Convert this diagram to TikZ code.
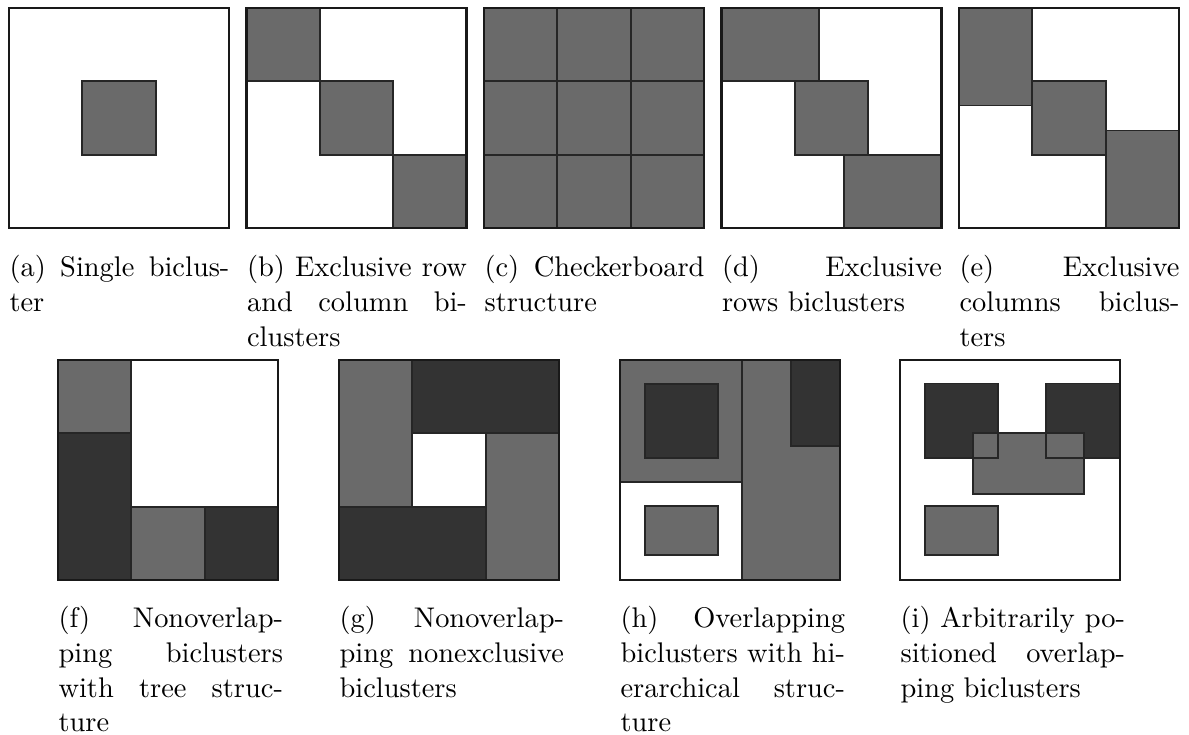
\documentclass[tikz,border=0pt]{standalone}
\usepackage{tikz}

\definecolor{bcmid}{HTML}{6A6A6A}
\definecolor{bcdark}{HTML}{333333}

\begin{document}
\begin{tikzpicture}[
  x=0.352pt, y=-0.352pt,
  frame/.style={draw=black!90, line width=0.9pt},
  edge/.style={draw=black!85, line width=0.6pt},
  mid/.style={edge, fill=bcmid},
  dark/.style={edge, fill=bcdark},
  captxt/.style={anchor=north west, inner sep=0pt, text width=77.4pt, align=justify, font=\fontsize{10}{12.2}\selectfont},
  captxtB/.style={captxt, text width=79pt}
]
\def\s{73.33}
\def\yT{8}
\def\yB{360}

\useasboundingbox (0,0) rectangle (1189,734);

% top row
% (a) single bicluster
\begin{scope}[shift={(9,\yT)}, scale=\s]
  \fill[white] (0,0) rectangle (3,3);
  \draw[mid] (1,1) rectangle (2,2);
  \draw[frame] (0,0) rectangle (3,3);
\end{scope}

% (b) exclusive row and column
\begin{scope}[shift={(246.5,\yT)}, scale=\s]
  \fill[white] (0,0) rectangle (3,3);
  \draw[mid] (0,0) rectangle (1,1);
  \draw[mid] (1,1) rectangle (2,2);
  \draw[mid] (2,2) rectangle (3,3);
  \draw[frame] (0,0) rectangle (3,3);
\end{scope}

% (c) checkerboard
\begin{scope}[shift={(484,\yT)}, scale=\s]
  \fill[bcmid] (0,0) rectangle (3,3);
  \draw[edge] (1,0) -- (1,3) (2,0) -- (2,3) (0,1) -- (3,1) (0,2) -- (3,2);
  \draw[frame] (0,0) rectangle (3,3);
\end{scope}

% (d) exclusive rows
\begin{scope}[shift={(721.5,\yT)}, scale=\s]
  \fill[white] (0,0) rectangle (3,3);
  \draw[mid] (0,0) rectangle (1.33,1);
  \draw[mid] (1,1) rectangle (2,2);
  \draw[mid] (1.67,2) rectangle (3,3);
  \draw[frame] (0,0) rectangle (3,3);
\end{scope}

% (e) exclusive columns
\begin{scope}[shift={(959,\yT)}, scale=\s]
  \fill[white] (0,0) rectangle (3,3);
  \draw[mid] (0,0) rectangle (1,1.33);
  \draw[mid] (1,1) rectangle (2,2);
  \draw[mid] (2,1.67) rectangle (3,3);
  \draw[frame] (0,0) rectangle (3,3);
\end{scope}

% bottom row
% (f) tree structure
\begin{scope}[shift={(58,\yB)}, scale=\s]
  \fill[white] (0,0) rectangle (3,3);
  \draw[mid] (0,0) rectangle (1,1);
  \draw[dark] (0,1) rectangle (1,3);
  \draw[mid] (1,2) rectangle (2,3);
  \draw[dark] (2,2) rectangle (3,3);
  \draw[frame] (0,0) rectangle (3,3);
\end{scope}

% (g) nonexclusive
\begin{scope}[shift={(339,\yB)}, scale=\s]
  \fill[white] (0,0) rectangle (3,3);
  \draw[mid] (0,0) rectangle (1,2);
  \draw[dark] (1,0) rectangle (3,1);
  \draw[mid] (2,1) rectangle (3,3);
  \draw[dark] (0,2) rectangle (2,3);
  \draw[frame] (0,0) rectangle (3,3);
\end{scope}

% (h) hierarchical
\begin{scope}[shift={(620,\yB)}, scale=\s]
  \fill[white] (0,0) rectangle (3,3);
  \draw[mid] (0,0) rectangle (1.665,1.665);
  \draw[mid] (1.665,0) rectangle (3,3);
  \draw[dark] (0.34,0.33) rectangle (1.335,1.335);
  \draw[mid] (0.34,1.99) rectangle (1.335,2.66);
  \draw[dark] (2.33,0) rectangle (3,1.17);
  \draw[frame] (0,0) rectangle (3,3);
\end{scope}

% (i) arbitrary overlap
\begin{scope}[shift={(900,\yB)}, scale=\s]
  \fill[white] (0,0) rectangle (3,3);
  \draw[dark] (0.34,0.32) rectangle (1.34,1.34);
  \draw[dark] (1.99,0.32) rectangle (3,1.34);
  \draw[mid] (1.0,1.0) rectangle (2.51,1.83);
  \draw[edge] (0.34,0.32) rectangle (1.34,1.34) (1.99,0.32) rectangle (3,1.34);
  \draw[mid] (0.34,1.99) rectangle (1.34,2.66);
  \draw[frame] (0,0) rectangle (3,3);
\end{scope}

% captions
\node[captxt] (capA) at (9,255) {(a) Single bicluster};
\node[captxt] (capB) at (246.5,255) {(b) Exclusive row and column biclusters};
\node[captxt] (capC) at (484,255) {(c) Checkerboard structure};
\node[captxt] (capD) at (721.5,255) {(d) Exclusive rows biclusters};
\node[captxt] (capE) at (959,255) {(e) Exclusive columns biclusters};

\node[captxtB] (capF) at (58,606) {(f) Nonoverlapping biclusters with tree structure};
\node[captxtB] (capG) at (339,606) {(g) Nonoverlapping nonexclusive biclusters};
\node[captxtB] (capH) at (620,606) {(h) Overlapping\linebreak biclusters with hi-\linebreak erarchical structure};
\node[captxtB] (capI) at (900,606) {(i) Arbitrarily positioned overlapping biclusters};
\end{tikzpicture}
\end{document}
